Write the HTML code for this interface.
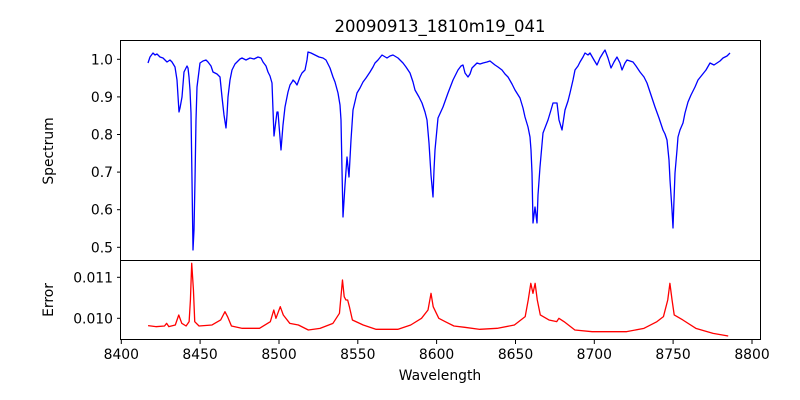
<!DOCTYPE html>
<html><head><meta charset="utf-8"><style>
html,body{margin:0;padding:0;background:#fff}
svg{display:block}
text{font-family:"DejaVu Sans","Liberation Sans",sans-serif;fill:#000}
</style></head><body>
<svg width="800" height="400" viewBox="0 0 800 400" xmlns="http://www.w3.org/2000/svg">
<rect width="800" height="400" fill="#fff"/>
<text x="440" y="32" font-size="16.5" text-anchor="middle">20090913_1810m19_041</text>
<polyline fill="none" stroke="#0000ff" stroke-width="1.3" stroke-linejoin="round" points="
148,63 150,57 153,53 155,55 157,54 160,57 163,58 167,62 170,60 172,62 175,67 177,80 179,112 180,108 182,97 184,72 187,66 188,68 189,77 190,90 191,113 192,180 193,250 194,230 195,180 196,120 197,87 200,63 203,61 206,60 208,62 211,66 213,72 217,74 220,77 222,97 224,115 226,128 227,115 228,97 230,80 232,70 235,64 237,62 240,59 242,58 246,60 250,58 254,59 258,57 261,58 263,62 266,66 268,72 270,76 272,83 273,110 274,136 276,120 277,112 278,112 279,125 281,150 283,125 285,107 288,92 290,85 292,82 293,80 295,82 297,85 300,77 302,73 305,70 307,60 308,52 311,53 315,55 319,57 323,58 326,60 330,68 333,77 335,82 338,93 340,105 341,120 342,170 343,217 345,185 347,157 349,177 351,140 353,110 357,93 360,88 363,82 366,78 370,72 373,67 375,63 378,60 382,55 387,58 390,56 393,55 398,58 403,63 406,67 410,73 413,82 415,90 419,97 422,103 425,112 427,120 429,143 431,175 433,197 434,170 435,150 438,118 443,107 448,93 453,80 458,70 461,66 463,65 465,73 468,77 470,74 472,68 475,65 477,63 480,64 483,63 487,62 490,61 495,65 498,67 502,70 505,74 508,77 512,84 515,90 520,98 523,108 525,117 528,127 530,137 531,150 532,173 533,223 535,207 537,223 538,195 540,167 543,133 548,120 551,110 553,103 557,103 559,120 562,130 565,110 568,101 570,93 573,80 575,70 578,66 580,62 583,57 585,53 588,55 590,53 594,60 597,65 600,58 603,53 605,50 608,58 611,68 614,62 617,57 620,63 622,70 625,63 627,60 630,61 633,62 636,66 640,72 644,77 647,83 651,95 655,107 659,118 663,130 665,134 667,140 669,160 670,180 672,210 673,228 674,200 675,173 677,150 678,137 680,130 683,123 685,113 688,102 691,95 695,87 698,80 702,75 706,70 710,63 714,65 717,63 720,61 723,58 727,56 730,53"/>
<g transform="translate(99.7,250) scale(0.43197,0.33333)">
<polyline fill="none" stroke="#ff0000" stroke-width="1.3" vector-effect="non-scaling-stroke" stroke-linejoin="round" points="
112,227 130,230 150,228 155,220 160,230 175,225 183,195 190,220 200,228 207,215 210,150 213,40 217,120 220,215 230,228 260,225 280,210 290,185 296,200 305,228 330,235 370,235 395,215 403,180 408,205 418,170 425,195 440,220 460,225 483,240 510,235 540,220 555,190 562,90 566,140 570,150 574,150 578,170 585,210 610,225 640,238 690,238 720,225 745,205 760,180 767,130 772,170 785,205 800,215 820,228 845,232 880,238 920,235 960,225 985,200 992,150 998,100 1003,130 1008,100 1013,150 1020,195 1040,210 1058,215 1063,205 1075,215 1100,240 1140,245 1180,245 1220,245 1260,235 1290,215 1305,200 1315,150 1320,100 1325,150 1330,195 1350,210 1380,235 1420,250 1455,258"/>
</g>
<rect x="120.5" y="40.5" width="640" height="220" fill="none" stroke="#000" stroke-width="1"/>
<rect x="120.5" y="260.5" width="640" height="79" fill="none" stroke="#000" stroke-width="1"/>
<g stroke="#000" stroke-width="1">
<line x1="117" y1="59.3" x2="120.5" y2="59.3"/>
<line x1="117" y1="96.9" x2="120.5" y2="96.9"/>
<line x1="117" y1="134.5" x2="120.5" y2="134.5"/>
<line x1="117" y1="172.1" x2="120.5" y2="172.1"/>
<line x1="117" y1="209.7" x2="120.5" y2="209.7"/>
<line x1="117" y1="247.3" x2="120.5" y2="247.3"/>
<line x1="117" y1="277.3" x2="120.5" y2="277.3"/>
<line x1="117" y1="318.3" x2="120.5" y2="318.3"/>
<line x1="121.3" y1="340" x2="121.3" y2="344"/>
<line x1="200.1" y1="340" x2="200.1" y2="344"/>
<line x1="279" y1="340" x2="279" y2="344"/>
<line x1="357.8" y1="340" x2="357.8" y2="344"/>
<line x1="436.6" y1="340" x2="436.6" y2="344"/>
<line x1="515.5" y1="340" x2="515.5" y2="344"/>
<line x1="594.3" y1="340" x2="594.3" y2="344"/>
<line x1="673.1" y1="340" x2="673.1" y2="344"/>
<line x1="752" y1="340" x2="752" y2="344"/>
</g>
<g font-size="13.9" text-anchor="end">
<text x="113" y="64.3">1.0</text>
<text x="113" y="101.9">0.9</text>
<text x="113" y="139.5">0.8</text>
<text x="113" y="177.1">0.7</text>
<text x="113" y="214.7">0.6</text>
<text x="113" y="252.3">0.5</text>
<text x="113" y="282.3">0.011</text>
<text x="113" y="323.3">0.010</text>
</g>
<g font-size="13.9" text-anchor="middle">
<text x="121.3" y="359">8400</text>
<text x="200.1" y="359">8450</text>
<text x="279" y="359">8500</text>
<text x="357.8" y="359">8550</text>
<text x="436.6" y="359">8600</text>
<text x="515.5" y="359">8650</text>
<text x="594.3" y="359">8700</text>
<text x="673.1" y="359">8750</text>
<text x="752" y="359">8800</text>
<text x="440" y="380">Wavelength</text>
<text transform="translate(53,151) rotate(-90)">Spectrum</text>
<text transform="translate(53,300) rotate(-90)">Error</text>
</g>
</svg>
</body></html>
